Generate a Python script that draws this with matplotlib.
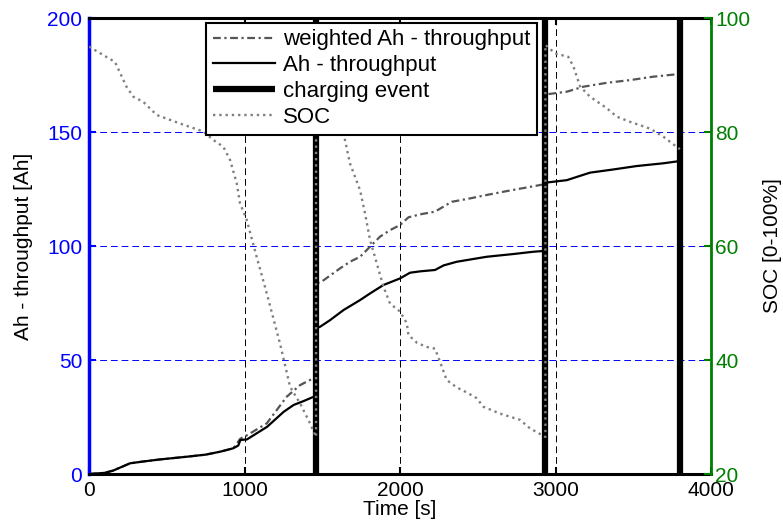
#!/usr/bin/env python3
"""Ah-throughput / weighted Ah-throughput / SOC over time with charging events."""

import matplotlib
matplotlib.use("Agg")
import matplotlib.pyplot as plt  # noqa: E402

plt.rcParams["font.family"] = ["Liberation Sans", "DejaVu Sans"]

# ---------------------------------------------------------------------------
# Data
# ---------------------------------------------------------------------------
charge_t = [1460, 2935, 3800]

soc_t = [0, 92, 167, 242, 285, 349, 435, 585, 735, 800, 864, 907, 950, 971,
         1014, 1078, 1143, 1228, 1293, 1357, 1421, 1460,
         1460, 1520, 1570, 1610, 1646, 1678, 1743, 1775, 1807, 1850, 1893,
         1936, 2000, 2043, 2054, 2110, 2171, 2225, 2257, 2300, 2364, 2430,
         2493, 2536, 2643, 2772, 2836, 2935,
         2935, 2997, 3082, 3115, 3158, 3222, 3329, 3394, 3479, 3608, 3693,
         3779, 3800]
soc = [95.0, 93.5, 92.3, 87.9, 86.2, 85.3, 83.0, 81.5, 80.1, 78.6, 77.4,
       75.1, 71.0, 67.5, 64.6, 58.1, 51.7, 42.9, 35.3, 32.4, 28.9, 26.5,
       95.0, 93.5, 90.5, 85.0, 78.6, 74.5, 69.8, 65.7, 61.1, 57.0, 52.9,
       49.9, 48.5, 46.5, 44.4, 43.0, 42.3, 42.0, 39.7, 36.5, 35.2, 34.3,
       33.3, 31.8, 30.6, 29.5, 28.0, 26.5,
       95.3, 93.8, 93.2, 91.5, 88.0, 86.2, 84.2, 82.7, 81.8, 80.6, 79.2,
       77.4, 77.0]

ah_t = [0, 100, 155, 264, 350, 457, 631, 750, 844, 928, 960, 973, 1016,
        1145, 1252, 1316, 1380, 1445, 1460,
        1460, 1486, 1550, 1593, 1636, 1743, 1807, 1893, 2000, 2064, 2129,
        2225, 2280, 2364, 2557, 2729, 2857, 2935,
        2935, 3072, 3222, 3372, 3522, 3693, 3800]
ah = [0.0, 0.5, 1.5, 4.7, 5.5, 6.4, 7.6, 8.5, 9.8, 11.3, 12.5, 14.9, 15.2,
      20.7, 27.3, 30.3, 32.0, 33.9, 34.5,
      64.0, 64.6, 67.5, 69.7, 71.9, 76.3, 79.2, 82.9, 85.8, 88.3, 88.9,
      89.5, 91.5, 93.1, 95.3, 96.5, 97.5, 97.9,
      127.8, 128.9, 132.2, 133.6, 135.1, 136.3, 137.3]

wah_t = [0, 100, 155, 264, 350, 457, 631, 750, 844, 928, 973, 1016, 1143,
         1271, 1357, 1400, 1443, 1460,
         1460, 1496, 1614, 1678, 1743, 1807, 1871, 1936, 2000, 2054, 2129,
         2225, 2332, 2450, 2557, 2686, 2815, 2935,
         2935, 3072, 3179, 3329, 3479, 3629, 3800]
wah = [0.0, 0.5, 1.5, 4.7, 5.5, 6.4, 7.6, 8.5, 9.8, 11.3, 15.5, 17.0, 22.2,
       33.9, 39.0, 40.5, 42.0, 42.5,
       83.5, 84.4, 90.2, 93.1, 95.3, 99.7, 104.1, 107.0, 109.2, 112.6, 113.9,
       115.1, 119.4, 120.9, 122.4, 124.1, 125.7, 127.2,
       166.5, 167.7, 169.9, 171.6, 172.8, 174.3, 175.5]

BLUE = "#0000ff"
GREEN = "#007f00"
FS = 15
FS_LEG = 16

# ---------------------------------------------------------------------------
# Figure
# ---------------------------------------------------------------------------
fig = plt.figure(figsize=(7.83, 5.32), dpi=100)
ax = fig.add_axes([0.1137, 0.109, 0.7944, 0.857])
ax2 = ax.twinx()

h_w, = ax.plot(wah_t, wah, color="#555555", lw=1.6,
               linestyle=(0, (3.5, 1.6, 1.0, 1.6)), label="weighted Ah - throughput")
h_a, = ax.plot(ah_t, ah, color="k", lw=1.6, label="Ah - throughput")
h_c = None
for t in charge_t:
    h, = ax.plot([t, t], [0, 200], color="k", lw=4.5, solid_capstyle="butt",
                 label="charging event")
    if h_c is None:
        h_c = h
h_s, = ax2.plot(soc_t, soc, color="#808080", lw=1.7, linestyle=":", label="SOC")

# axes limits / ticks
ax.set_xlim(0, 4000)
ax.set_ylim(0, 200)
ax2.set_ylim(20, 100)
ax.set_xticks([0, 1000, 2000, 3000, 4000])
ax.set_yticks([0, 50, 100, 150, 200])
ax2.set_yticks([20, 40, 60, 80, 100])

ax.tick_params(axis="x", direction="in", length=5, width=1.5, top=True,
               colors="k", labelsize=FS, pad=5)
ax.tick_params(axis="y", direction="in", length=5, width=1.5, left=True,
               right=False, colors=BLUE, labelsize=FS, pad=5)
ax2.tick_params(axis="y", direction="in", length=5, width=1.5, colors=GREEN,
                labelsize=FS, pad=3)

# grid: vertical black dashed, horizontal blue dashed
ax.set_axisbelow(True)
ax.xaxis.grid(True, color="k", lw=0.7, linestyle=(0, (7, 4)))
ax.yaxis.grid(True, color=BLUE, lw=0.7, linestyle=(0, (7, 4)))

# spines
for s in ("top", "bottom"):
    ax.spines[s].set_linewidth(2.2)
    ax.spines[s].set_color("k")
ax.spines["left"].set_linewidth(2.5)
ax.spines["left"].set_color(BLUE)
ax.spines["right"].set_visible(False)
for s in ("top", "bottom", "left"):
    ax2.spines[s].set_visible(False)
ax2.spines["right"].set_linewidth(2.0)
ax2.spines["right"].set_color(GREEN)

ax.set_xlabel("Time [s]", fontsize=FS, labelpad=0)
ax.set_ylabel("Ah - throughput [Ah]", fontsize=FS, labelpad=10)
ax2.set_ylabel("SOC [0-100%]", fontsize=FS, labelpad=9)

leg = ax2.legend([h_w, h_a, h_c, h_s],
                 ["weighted Ah - throughput", "Ah - throughput",
                  "charging event", "SOC"],
                 loc="upper left", bbox_to_anchor=(0.188, 0.990),
                 borderaxespad=0, fancybox=False, framealpha=1,
                 edgecolor="k", fontsize=FS_LEG, handlelength=2.8,
                 handletextpad=0.35, labelspacing=0.22, borderpad=0.3)
leg.get_frame().set_linewidth(1.5)

fig.savefig("out.png", dpi=100)
